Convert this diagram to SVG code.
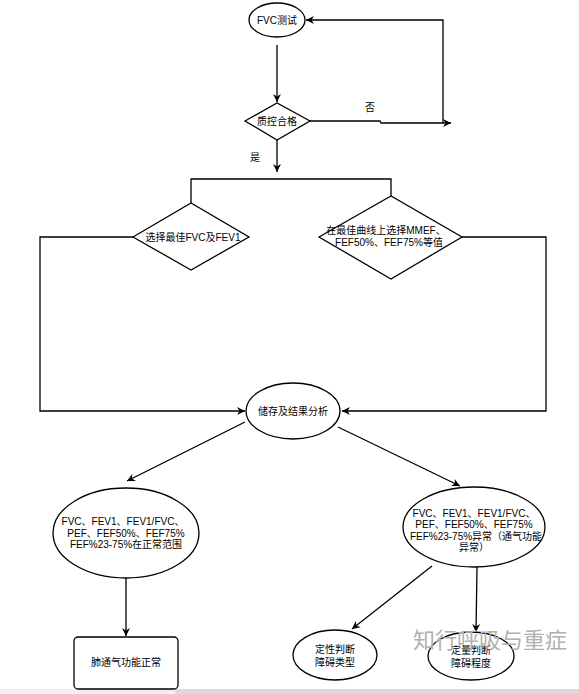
<svg xmlns="http://www.w3.org/2000/svg" width="579" height="694" viewBox="0 0 579 694">
<defs>
<marker id="arr" markerUnits="userSpaceOnUse" markerWidth="10" markerHeight="9" refX="8" refY="4.5" orient="auto">
<path d="M0,0.5 L8,4.5 L0,8.5 L2.5,4.5 z" fill="#000"/>
</marker>
<style>
.s{fill:#fff;stroke:#000;stroke-width:1.3}
.c{fill:none;stroke:#000;stroke-width:1.3}
.a{marker-end:url(#arr)}
text{font-family:"Liberation Sans","Noto Sans CJK SC",sans-serif;font-size:10px;fill:#000;text-anchor:middle}
.wm{font-size:22px;fill:#b0b0b0;text-anchor:start}
</style>
</defs>
<rect x="0" y="0" width="579" height="694" fill="#fff"/>
<rect x="0" y="689" width="175" height="5" fill="#f0f0f0"/>
<rect x="175" y="689" width="404" height="5" fill="#dadada"/>
<g id="connectors">
<path class="c a" d="M277,45 L277,102"/>
<path class="c a" d="M309,121 L380,121 L381,123 L451,123"/>
<path class="c a" d="M443,123 L443,20 L306,20"/>
<path class="c a" d="M277,139 L277,172"/>
<path class="c" d="M191,203 L191,179 L391,179 L391,196"/>
<path class="c a" d="M133,237 L40,237 L40,411 L245,411"/>
<path class="c a" d="M462,237 L546,237 L546,411 L342,411"/>
<path class="c a" d="M245,422 L127,481"/>
<path class="c a" d="M338,427 L460,486"/>
<path class="c a" d="M126,578 L126,636"/>
<path class="c a" d="M432,566 L352,629"/>
<path class="c a" d="M477,567 L476,632"/>
<text x="370" y="111">否</text>
<text x="255" y="161">是</text>
</g>
<g id="fvc">
<ellipse class="s" cx="277" cy="20" rx="28" ry="17"/>
<text x="277" y="23.5">FVC测试</text>
</g>
<g id="qc">
<polygon class="s" points="245,121 277,103 310,121 277,140"/>
<text x="277" y="124.5">质控合格</text>
</g>
<g id="best">
<polygon class="s" points="133,237 191,203 249,237 191,270"/>
<text x="193" y="240.5">选择最佳FVC及FEV1</text>
</g>
<g id="curve">
<polygon class="s" points="319,237 391,196 462,237 391,279"/>
<text x="386" y="234">在最佳曲线上选择MMEF、</text>
<text x="389" y="245.5">FEF50%、FEF75%等值</text>
</g>
<g id="store">
<ellipse class="s" cx="293" cy="411" rx="47" ry="28"/>
<text x="293" y="414.5">储存及结果分析</text>
</g>
<g id="normal">
<ellipse class="s" cx="126" cy="533" rx="73" ry="45"/>
<text x="123" y="524.5">FVC、FEV1、FEV1/FVC、</text>
<text x="126" y="536.5">PEF、FEF50%、FEF75%</text>
<text x="126" y="548">FEF%23-75%在正常范围</text>
</g>
<g id="abnormal">
<ellipse class="s" cx="474" cy="527" rx="71" ry="40"/>
<text x="474" y="516.5">FVC、FEV1、FEV1/FVC、</text>
<text x="474" y="528">PEF、FEF50%、FEF75%</text>
<text x="476" y="539.5">FEF%23-75%异常（通气功能</text>
<text x="474" y="551">异常）</text>
</g>
<g id="ok">
<rect class="s" x="74" y="637" width="104" height="52" rx="4"/>
<text x="126" y="665.5">肺通气功能正常</text>
</g>
<g id="qual">
<ellipse class="s" cx="335" cy="655" rx="42" ry="25"/>
<text x="335" y="653">定性判断</text>
<text x="335" y="666">障碍类型</text>
</g>
<g id="quant">
<ellipse class="s" cx="471" cy="656" rx="43" ry="24"/>
<text x="471" y="654">定量判断</text>
<text x="471" y="667">障碍程度</text>
</g>
<text class="wm" x="413" y="648">知行呼吸与重症</text>
</svg>
